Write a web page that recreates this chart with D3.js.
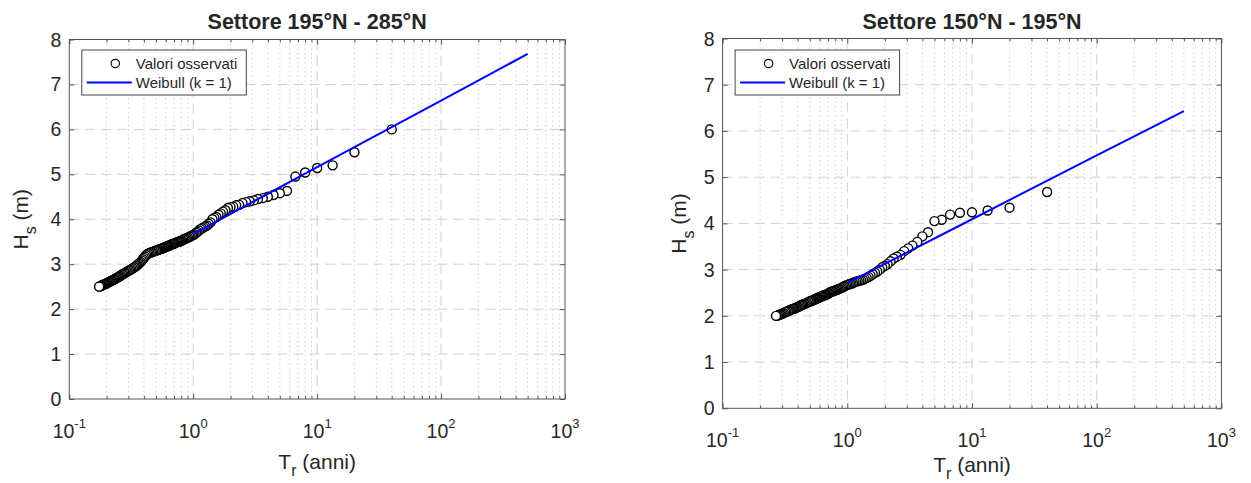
<!DOCTYPE html>
<html lang="it">
<head>
<meta charset="UTF-8">
<title>Settori - Hs vs Tr</title>
<script src="https://cdnjs.cloudflare.com/ajax/libs/d3/7.8.5/d3.min.js"></script>
<style>
  body { margin: 0; background: #fff; }
  svg { display: block; font-family: "Liberation Sans", Arial, sans-serif; }
  text { fill: #262626; }
</style>
</head>
<body>
<script>
// ---- data ----
const titles = ["Settore 195°N - 285°N", "Settore 150°N - 195°N"];
const legendLabels = ["Valori osservati", "Weibull (k = 1)"];
const yTicks = [0, 1, 2, 3, 4, 5, 6, 7, 8];
const xTickExp = [-1, 0, 1, 2, 3];

// left panel: observed values (return period in years, Hs in m)
const leftTr = [40, 20, 13.33, 10, 8, 6.67, 5.71, 5.0, 4.44, 4.0, 3.64, 3.33, 3.08, 2.86, 2.67, 2.5,
  2.35, 2.22, 2.105, 2.0, 1.905, 1.818, 1.739, 1.667, 1.6, 1.538, 1.481, 1.429, 1.379, 1.333,
  1.29, 1.25, 1.212, 1.176, 1.143, 1.111, 1.081, 1.053, 1.026, 1.0,
  0.976, 0.952, 0.930, 0.909, 0.889, 0.870, 0.851, 0.833, 0.816, 0.800,
  0.784, 0.769, 0.755, 0.741, 0.727, 0.714, 0.702, 0.690, 0.678, 0.667,
  0.656, 0.645, 0.635, 0.625, 0.615, 0.606, 0.597, 0.588, 0.580, 0.571,
  0.563, 0.556, 0.548, 0.541, 0.533, 0.526, 0.519, 0.513, 0.506, 0.500,
  0.488, 0.476, 0.465, 0.455, 0.444, 0.435, 0.426, 0.417, 0.408, 0.400,
  0.392, 0.385, 0.377, 0.370, 0.364, 0.357, 0.351, 0.345, 0.339, 0.333,
  0.325, 0.317, 0.310, 0.303, 0.296, 0.290, 0.284, 0.278, 0.272, 0.267,
  0.261, 0.256, 0.252, 0.247, 0.242, 0.238, 0.234, 0.230, 0.226, 0.222,
  0.219, 0.215, 0.212, 0.208, 0.205, 0.202, 0.199, 0.196, 0.193, 0.190,
  0.188, 0.185, 0.183, 0.180, 0.178, 0.175, 0.174];
const leftHs = [6.00, 5.49, 5.20, 5.14, 5.04, 4.95, 4.63, 4.58, 4.54, 4.50, 4.47, 4.45, 4.42, 4.40, 4.38, 4.36,
  4.32, 4.31, 4.28, 4.27, 4.25, 4.20, 4.17, 4.13, 4.10, 4.05, 4.03, 4.00, 3.93, 3.90,
  3.86, 3.84, 3.82, 3.80, 3.78, 3.75, 3.72, 3.70, 3.67, 3.65,
  3.64, 3.62, 3.61, 3.59, 3.58, 3.57, 3.56, 3.55, 3.53, 3.52,
  3.51, 3.50, 3.50, 3.49, 3.48, 3.47, 3.46, 3.45, 3.45, 3.44,
  3.43, 3.42, 3.41, 3.40, 3.40, 3.39, 3.38, 3.37, 3.37, 3.36,
  3.35, 3.35, 3.34, 3.34, 3.33, 3.32, 3.32, 3.31, 3.31, 3.30,
  3.29, 3.28, 3.27, 3.26, 3.25, 3.24, 3.22, 3.20, 3.17, 3.14,
  3.11, 3.08, 3.05, 3.03, 3.01, 2.99, 2.97, 2.96, 2.94, 2.93,
  2.91, 2.89, 2.87, 2.86, 2.84, 2.83, 2.81, 2.80, 2.78, 2.77,
  2.75, 2.74, 2.72, 2.71, 2.70, 2.69, 2.67, 2.66, 2.65, 2.64,
  2.63, 2.62, 2.61, 2.60, 2.59, 2.58, 2.57, 2.56, 2.56, 2.55,
  2.54, 2.53, 2.53, 2.52, 2.51, 2.50, 2.50];
const leftFitTr = [1, 10, 100, 500];
const leftFitHs = [3.67, 5.16, 6.64, 7.68];

// right panel
const rightTr = [40, 20, 13.33, 10, 8, 6.67, 5.71, 5.0, 4.44, 4.0, 3.64, 3.33, 3.08, 2.86, 2.67, 2.5,
  2.35, 2.22, 2.105, 2.0, 1.905, 1.818, 1.739, 1.667, 1.6, 1.538, 1.481, 1.429, 1.379, 1.333,
  1.29, 1.25, 1.212, 1.176, 1.143, 1.111, 1.081, 1.053, 1.026, 1.0,
  0.976, 0.952, 0.930, 0.909, 0.889, 0.870, 0.851, 0.833, 0.816, 0.800,
  0.784, 0.769, 0.755, 0.741, 0.727, 0.714, 0.702, 0.690, 0.678, 0.667,
  0.656, 0.645, 0.635, 0.625, 0.615, 0.606, 0.597, 0.588, 0.580, 0.571,
  0.563, 0.556, 0.548, 0.541, 0.533, 0.526, 0.519, 0.513, 0.506, 0.500,
  0.488, 0.476, 0.465, 0.455, 0.444, 0.435, 0.426, 0.417, 0.408, 0.400,
  0.392, 0.385, 0.377, 0.370, 0.364, 0.357, 0.351, 0.345, 0.339, 0.333,
  0.325, 0.317, 0.310, 0.303, 0.296, 0.290, 0.284, 0.278, 0.272, 0.268];
const rightHs = [4.68, 4.34, 4.28, 4.24, 4.23, 4.19, 4.08, 4.05, 3.81, 3.72, 3.60, 3.52, 3.46, 3.40, 3.32, 3.28,
  3.24, 3.18, 3.12, 3.08, 3.05, 3.00, 2.96, 2.93, 2.90, 2.87, 2.84, 2.82, 2.80, 2.78,
  2.77, 2.76, 2.75, 2.74, 2.73, 2.71, 2.70, 2.69, 2.68, 2.67,
  2.66, 2.64, 2.63, 2.61, 2.60, 2.59, 2.58, 2.57, 2.56, 2.55,
  2.54, 2.53, 2.53, 2.52, 2.51, 2.49, 2.48, 2.47, 2.46, 2.45,
  2.45, 2.44, 2.43, 2.42, 2.42, 2.41, 2.40, 2.39, 2.39, 2.38,
  2.37, 2.36, 2.36, 2.35, 2.34, 2.33, 2.33, 2.32, 2.32, 2.31,
  2.30, 2.28, 2.27, 2.26, 2.25, 2.24, 2.23, 2.22, 2.20, 2.19,
  2.18, 2.17, 2.16, 2.15, 2.15, 2.14, 2.13, 2.12, 2.11, 2.10,
  2.09, 2.08, 2.06, 2.05, 2.04, 2.03, 2.02, 2.01, 2.00, 2.00];
const rightFitTr = [1, 10, 100, 500];
const rightFitHs = [2.71, 4.09, 5.47, 6.43];

// ---- drawing ----
const W = 1251, H = 483;
const svg = d3.select("body").append("svg").attr("width", W).attr("height", H);

const panels = [
  { left: 69.3, right: 565, top: 39.5, bottom: 399, ylabOff: 41, xlabOff: 70, title: titles[0],
    tr: leftTr, hs: leftHs, fitTr: leftFitTr, fitHs: leftFitHs },
  { left: 722.6, right: 1221.4, top: 38.5, bottom: 408.3, ylabOff: 37, xlabOff: 64, title: titles[1],
    tr: rightTr, hs: rightHs, fitTr: rightFitTr, fitHs: rightFitHs }
];

panels.forEach(p => drawPanel(p));

function drawPanel(p) {
  const g = svg.append("g");
  const x = d3.scaleLog().domain([0.1, 1000]).range([p.left, p.right]);
  const y = d3.scaleLinear().domain([0, 8]).range([p.bottom, p.top]);

  const allX = x.ticks();   // 1..9 x 10^k
  const majorX = xTickExp.map(e => Math.pow(10, e));
  const isMajor = v => majorX.some(m => Math.abs(m - v) / m < 1e-6);
  const minorX = allX.filter(v => !isMajor(v));

  // grid: minor dotted, major dashed
  g.append("g").selectAll("line").data(minorX).enter().append("line")
    .attr("x1", d => x(d)).attr("x2", d => x(d))
    .attr("y1", p.top).attr("y2", p.bottom)
    .attr("stroke", "#d2d2d2").attr("stroke-width", 1).attr("stroke-dasharray", "1.5,3");
  g.append("g").selectAll("line").data(majorX.slice(1, -1)).enter().append("line")
    .attr("x1", d => x(d)).attr("x2", d => x(d))
    .attr("y1", p.top).attr("y2", p.bottom)
    .attr("stroke", "#cfcfcf").attr("stroke-width", 1).attr("stroke-dasharray", "10,6");
  g.append("g").selectAll("line").data(yTicks.slice(1, -1)).enter().append("line")
    .attr("x1", p.left).attr("x2", p.right)
    .attr("y1", d => y(d)).attr("y2", d => y(d))
    .attr("stroke", "#cfcfcf").attr("stroke-width", 1).attr("stroke-dasharray", "10,6");

  // box
  g.append("rect").attr("x", p.left).attr("y", p.top)
    .attr("width", p.right - p.left).attr("height", p.bottom - p.top)
    .attr("fill", "none").attr("stroke", "#555").attr("stroke-width", 1);

  // inward ticks on four sides
  const tickStyle = sel => {
    sel.select(".domain").remove();
    sel.selectAll("line").attr("stroke", "#555");
    sel.selectAll("text").remove();
  };
  g.append("g").attr("transform", `translate(0,${p.bottom})`)
    .call(d3.axisBottom(x).tickValues(majorX).tickSize(-5)).call(tickStyle);
  g.append("g").attr("transform", `translate(0,${p.bottom})`)
    .call(d3.axisBottom(x).tickValues(minorX).tickSize(-3)).call(tickStyle);
  g.append("g").attr("transform", `translate(0,${p.top})`)
    .call(d3.axisTop(x).tickValues(majorX).tickSize(-5)).call(tickStyle);
  g.append("g").attr("transform", `translate(0,${p.top})`)
    .call(d3.axisTop(x).tickValues(minorX).tickSize(-3)).call(tickStyle);
  g.append("g").attr("transform", `translate(${p.left},0)`)
    .call(d3.axisLeft(y).tickValues(yTicks).tickSize(-5)).call(tickStyle);
  g.append("g").attr("transform", `translate(${p.right},0)`)
    .call(d3.axisRight(y).tickValues(yTicks).tickSize(-5)).call(tickStyle);

  // tick labels
  g.append("g").selectAll("text").data(yTicks).enter().append("text")
    .attr("x", p.left - 8).attr("y", d => y(d)).attr("dy", "0.36em")
    .attr("text-anchor", "end").attr("font-size", 19.5).text(d => d);

  const xl = g.append("g").selectAll("text").data(xTickExp).enter().append("text")
    .attr("x", d => x(Math.pow(10, d)))
    .attr("y", p.bottom + 39).attr("text-anchor", "middle").attr("font-size", 19.5);
  xl.append("tspan").text("10");
  xl.append("tspan").attr("font-size", 13).attr("dy", -10).text(d => d);

  // axis labels
  const xt = g.append("text").attr("x", (p.left + p.right) / 2).attr("y", p.bottom + p.xlabOff)
    .attr("text-anchor", "middle").attr("font-size", 21);
  xt.append("tspan").text("T");
  xt.append("tspan").attr("font-size", 16).attr("dy", 7).text("r");
  xt.append("tspan").attr("dy", -7).text(" (anni)");

  const yt = g.append("text")
    .attr("transform", `translate(${p.left - p.ylabOff},${(p.top + p.bottom) / 2}) rotate(-90)`)
    .attr("text-anchor", "middle").attr("font-size", 21);
  yt.append("tspan").text("H");
  yt.append("tspan").attr("font-size", 16).attr("dy", 8).text("s");
  yt.append("tspan").attr("dy", -8).text(" (m)");

  // title
  g.append("text").attr("x", (p.left + p.right) / 2).attr("y", 29)
    .attr("text-anchor", "middle").attr("font-size", 21.5).attr("font-weight", "bold")
    .text(p.title);

  // observed points (drawn from the largest to the smallest)
  const pts = p.tr.map((t, i) => ({ t, h: p.hs[i] }));
  g.append("g").selectAll("circle").data(pts).enter().append("circle")
    .attr("cx", d => x(d.t)).attr("cy", d => y(d.h)).attr("r", 4.5)
    .attr("fill", "#fff").attr("stroke", "#000").attr("stroke-width", 1.4);

  // Weibull fit
  const fit = p.fitTr.map((t, i) => ({ t, h: p.fitHs[i] }));
  g.append("path").datum(fit)
    .attr("d", d3.line().x(d => x(d.t)).y(d => y(d.h)))
    .attr("fill", "none").attr("stroke", "#0000ff").attr("stroke-width", 2);

  // legend
  const lx = p.left + 12.5, ly = 50;
  const lg = g.append("g");
  lg.append("rect").attr("x", lx).attr("y", ly).attr("width", 164.5).attr("height", 45)
    .attr("fill", "#fff").attr("stroke", "#444").attr("stroke-width", 1);
  lg.append("circle").attr("cx", lx + 33.5).attr("cy", ly + 13.5).attr("r", 4.2)
    .attr("fill", "#fff").attr("stroke", "#111").attr("stroke-width", 1.2);
  lg.append("line").attr("x1", lx + 5).attr("x2", lx + 50)
    .attr("y1", ly + 32.5).attr("y2", ly + 32.5)
    .attr("stroke", "#0000ff").attr("stroke-width", 2);
  lg.selectAll("text.leg").data(legendLabels).enter().append("text")
    .attr("class", "leg").attr("x", lx + 54).attr("y", (d, i) => ly + 13.5 + i * 19)
    .attr("dy", "0.36em").attr("font-size", 15).text(d => d);
}
</script>
</body>
</html>
